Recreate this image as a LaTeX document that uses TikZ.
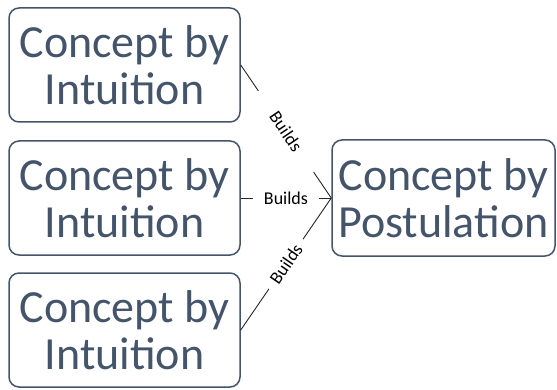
\documentclass[tikz,border=0pt]{standalone}
\usepackage{fontspec}
\setmainfont{Carlito}
\definecolor{slate}{HTML}{44546A}
\begin{document}
\begin{tikzpicture}[x=1pt,y=1pt,
  concept/.style={draw=slate, line width=1.5pt, rounded corners=10pt, text=slate,
    minimum width=231pt, minimum height=114pt, align=center, inner sep=0pt,
    font=\fontsize{46}{47}\selectfont},
  link/.style={draw=black!85, line width=0.9pt},
  lbl/.style={font=\fontsize{18}{20}\selectfont, text=black, fill=white, sloped,
    midway, inner ysep=1pt}]
\useasboundingbox (0,0) rectangle (557,389);
% three source concepts on the left
\node[concept] (i1) at (124.5,324) {Concept by\\Intuition};
\node[concept] (i2) at (124.5,191) {Concept by\\Intuition};
\node[concept] (i3) at (124.5,59) {Concept by\\Intuition};
% target concept on the right
\node[concept, minimum width=223pt, minimum height=116pt] (p) at (443.5,191) {Concept by\\Postulation};
% labelled links
\draw[link] (i1.east) -- node[lbl, inner xsep=27pt] {Builds} (p.west);
\draw[link] (i2.east) -- node[lbl, inner xsep=11pt] {Builds} (p.west);
\draw[link] (i3.east) -- node[lbl, inner xsep=8pt] {Builds} (p.west);
\end{tikzpicture}
\end{document}
